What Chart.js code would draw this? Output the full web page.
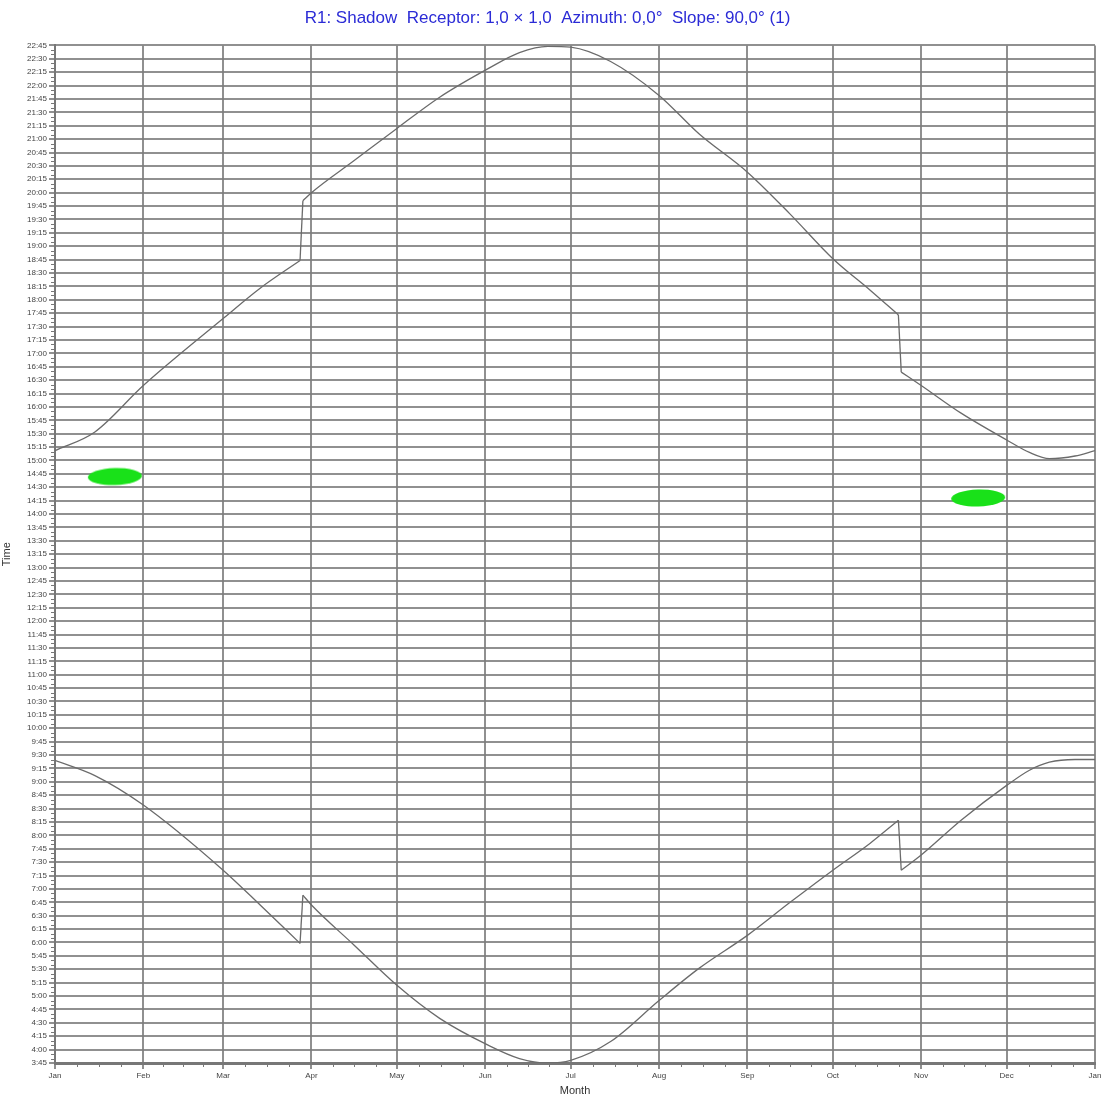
<!DOCTYPE html>
<html>
<head>
<meta charset="utf-8">
<script src="https://cdn.jsdelivr.net/npm/chart.js@4/dist/chart.umd.min.js"></script>
<style>
  body { margin: 0; background: #fff; }
  canvas { display: block; }
</style>
</head>
<body>
<canvas id="shadow-chart" width="1102" height="1098"></canvas>
<script>
// day of year (0 = 1 Jan) shared by both curves
const days = [0, 14, 31, 59, 72, 86, 87, 90, 105, 120, 135, 152, 163, 173, 181, 195, 212, 226, 243, 258, 273, 286, 296, 297, 304, 318, 334, 342, 349, 358, 365];
// minutes after midnight
const sunsetMinutes = [911, 932, 984, 1059, 1093, 1124, 1191, 1200, 1236, 1272, 1307, 1339, 1357, 1364, 1363, 1347, 1309, 1266, 1223, 1176, 1126, 1091, 1063, 999, 984, 953, 923, 909, 902, 905, 911];
const sunriseMinutes = [564, 547, 514, 441, 402, 359, 413, 402, 357, 312, 275, 245, 230, 225, 228, 249, 295, 331, 368, 405, 441, 471, 497, 441, 458, 497, 536, 553, 562, 565, 565];
// clock change: last index before each jump
const jumpAfter = [5, 22];

// green marks: centre day, time in minutes
const markDays = [21, 324];
const markMinutes = [882, 858];

const monthStarts = [0, 31, 59, 90, 120, 151, 181, 212, 243, 273, 304, 334, 365];
const monthLabels = ['Jan', 'Feb', 'Mar', 'Apr', 'May', 'Jun', 'Jul', 'Aug', 'Sep', 'Oct', 'Nov', 'Dec', 'Jan'];

const timeMin = 225;   // 3:45
const timeMax = 1365;  // 22:45
const timeStep = 15;

function fmtTime(m) {
    const h = Math.floor(m / 60);
    const mm = m % 60;
    return h + ':' + (mm < 10 ? '0' : '') + mm;
}

const toPoints = (xs, ys) => xs.map((d, i) => ({ x: d, y: ys[i] }));

const curveStyle = {
    borderColor: '#6b6b6b',
    borderWidth: 1.3,
    pointRadius: 0,
    showLine: true
};

// smooth pieces between the clock changes, straight lines across the jumps
function curveSets(values) {
    const pts = toPoints(days, values);
    const cuts = [0, ...jumpAfter.map(j => j + 1), pts.length];
    const sets = [];
    for (let i = 0; i < cuts.length - 1; i++) {
        sets.push({ data: pts.slice(cuts[i], cuts[i + 1]), ...curveStyle, cubicInterpolationMode: 'monotone' });
    }
    jumpAfter.forEach(j => sets.push({ data: pts.slice(j, j + 2), ...curveStyle, tension: 0 }));
    return sets;
}

// elliptical blob used as point style for the marks
function blob() {
    const c = document.createElement('canvas');
    c.width = 56; c.height = 20;
    const g = c.getContext('2d');
    g.fillStyle = 'rgb(25, 225, 25)';
    g.beginPath();
    g.ellipse(28, 10, 27, 8.5, -0.03, 0, Math.PI * 2);
    g.fill();
    return c;
}

// small ticks: every 5 minutes on the time axis, quarter months on the month axis
const minorTicks = {
    id: 'minorTicks',
    afterDraw(chart) {
        const ctx = chart.ctx;
        const xs = chart.scales.x, ys = chart.scales.y;
        ctx.save();
        ctx.strokeStyle = '#777';
        ctx.lineWidth = 1;
        ctx.beginPath();
        for (let m = timeMin; m <= timeMax; m += 5) {
            if ((m - timeMin) % timeStep === 0) continue;
            const py = Math.round(ys.getPixelForValue(m)) + 0.5;
            ctx.moveTo(xs.left - 4, py);
            ctx.lineTo(xs.left, py);
        }
        for (let i = 0; i < monthStarts.length - 1; i++) {
            const a = monthStarts[i], b = monthStarts[i + 1];
            for (let q = 1; q < 4; q++) {
                const px = Math.round(xs.getPixelForValue(a + (b - a) * q / 4)) + 0.5;
                ctx.moveTo(px, ys.bottom);
                ctx.lineTo(px, ys.bottom + 4);
            }
        }
        ctx.stroke();
        ctx.restore();
    }
};

new Chart(document.getElementById('shadow-chart'), {
    type: 'scatter',
    data: {
        datasets: [
            ...curveSets(sunsetMinutes),
            ...curveSets(sunriseMinutes),
            {
                data: toPoints(markDays, markMinutes),
                pointStyle: blob(),
                pointRadius: 10,
                showLine: false
            }
        ]
    },
    options: {
        responsive: false,
        animation: false,
        layout: { autoPadding: false, padding: { left: 0, right: 7, top: 0, bottom: 0 } },
        plugins: {
            legend: { display: false },
            tooltip: { enabled: false },
            title: {
                display: true,
                text: 'R1: Shadow  Receptor: 1,0 \u00d7 1,0  Azimuth: 0,0\u00b0  Slope: 90,0\u00b0 (1)',
                color: '#2b2bd6',
                font: { family: 'Arial, "Liberation Sans"', size: 17, weight: 'normal' },
                padding: { top: 8, bottom: 17 }
            }
        },
        scales: {
            x: {
                type: 'linear',
                min: 0,
                max: 365,
                afterBuildTicks: axis => { axis.ticks = monthStarts.map(v => ({ value: v })); },
                afterFit: axis => { axis.height = 35; axis.paddingRight = 0; axis.paddingLeft = 0; },
                ticks: {
                    autoSkip: false,
                    maxRotation: 0,
                    color: '#444',
                    font: { family: 'Arial, "Liberation Sans"', size: 8 },
                    padding: 2,
                    callback: (v, i) => monthLabels[i]
                },
                grid: { color: 'rgba(125,125,125,0.85)', lineWidth: 2, tickLength: 6 },
                border: { color: '#777', width: 3 },
                title: {
                    display: true,
                    text: 'Month',
                    color: '#333',
                    font: { family: 'Arial, "Liberation Sans"', size: 11 },
                    padding: 0
                }
            },
            y: {
                type: 'linear',
                min: timeMin,
                max: timeMax,
                afterBuildTicks: axis => {
                    const t = [];
                    for (let m = timeMin; m <= timeMax; m += timeStep) t.push({ value: m });
                    axis.ticks = t;
                },
                afterFit: axis => { axis.width = 55; },
                ticks: {
                    autoSkip: false,
                    color: '#444',
                    font: { family: 'Arial, "Liberation Sans"', size: 8 },
                    padding: 2,
                    callback: v => fmtTime(v)
                },
                grid: { color: 'rgba(125,125,125,0.85)', lineWidth: 2, tickLength: 6 },
                border: { color: '#777', width: 2 },
                title: {
                    display: true,
                    text: 'Time',
                    color: '#333',
                    font: { family: 'Arial, "Liberation Sans"', size: 11 },
                    padding: 0
                }
            }
        }
    },
    plugins: [minorTicks]
});
</script>
</body>
</html>
